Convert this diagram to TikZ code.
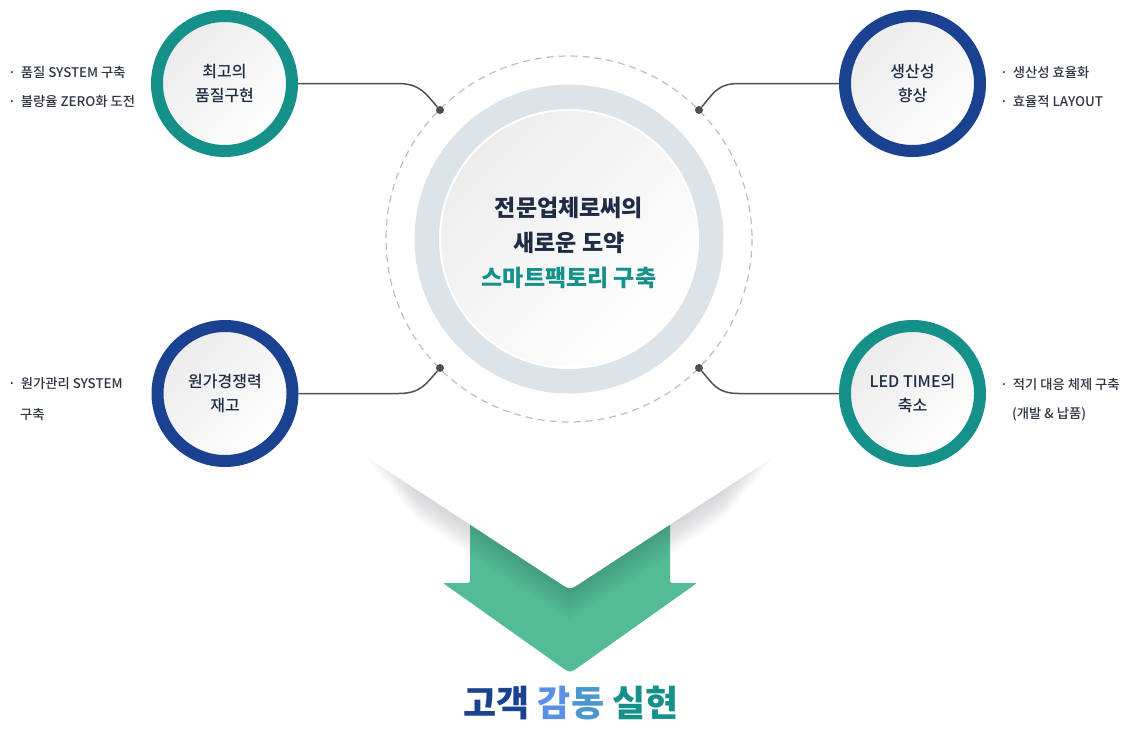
\documentclass[tikz,border=0pt]{standalone}
\usepackage{fontspec}
\setmainfont{Noto Sans CJK KR}
\newfontfamily\midfont{Noto Sans CJK KR Medium}
\newfontfamily\heavyfont{Noto Sans CJK KR Black}
\usepackage{xcolor}
\usepackage{tikz}
\usetikzlibrary{calc}
\definecolor{ink}{HTML}{1F2C45}
\definecolor{body}{HTML}{2E3542}
\definecolor{teal}{HTML}{16918A}
\definecolor{navy}{HTML}{1B4291}
\definecolor{mint}{HTML}{53BB95}
\definecolor{haze}{HTML}{DCE4EA}
\definecolor{wire}{HTML}{505050}
\definecolor{rim}{HTML}{BDBDBD}
\definecolor{sky}{HTML}{5C90E6}
\definecolor{sea}{HTML}{4A98CC}
\definecolor{smoke}{HTML}{3C3C50}
\tikzset{
  ring/.style={circle, draw=#1, line width=12pt, minimum size=135pt, inner sep=0pt,
    align=center, text=ink, font=\midfont\fontsize{16}{24}\selectfont,
    top color=black!8, bottom color=white, shading angle=45},
  orbit/.style={draw=rim, line width=1.2pt, dash pattern=on 7pt off 5pt},
  conn/.style={draw=wire, line width=1.5pt},
  dot/.style={circle, fill=wire, inner sep=0pt, minimum size=8pt},
  note/.style={anchor=west, text=body, font=\midfont\fontsize{13.3}{16}\selectfont, inner sep=0pt},
  motto/.style={align=center, text=ink, font=\fontsize{23}{35}\selectfont\bfseries}
}
\begin{document}
\begin{tikzpicture}[x=1pt, y=-1pt]
  \useasboundingbox (0,0) rectangle (1140,750);

  \node[circle, fill=haze, minimum size=309pt, inner sep=0pt] (halo) at (569,239) {};
  \node[circle, draw=white, line width=2pt, minimum size=258pt, inner sep=0pt,
    top color=black!7, bottom color=white, shading angle=45] (core) at (halo.center) {};
  \node[motto] (slogan) at (569,243) {전문업체로써의\\새로운 도약\\{\color{teal}스마트팩토리 구축}};
  \draw[orbit] (halo.center) circle (183);

  \node[dot] (dq) at (440,110) {};
  \node[dot] (dp) at (699,110) {};
  \node[dot] (dc) at (440,368) {};
  \node[dot] (dl) at (699,368) {};

  \node[ring=teal] (quality) at (224.5,83.5) {최고의\\품질구현};
  \node[ring=navy] (product) at (912.5,83.5) {생산성\\향상};
  \node[ring=navy] (cost) at (225,393.5) {원가경쟁력\\재고};
  \node[ring=teal] (lead) at (912.5,393.5) {LED TIME의\\축소};

  \draw[conn] (quality.east) -- ++(100,0) .. controls +(22,0) and +(-14,-16) .. (dq);
  \draw[conn] (product.west) -- ++(-100,0) .. controls +(-22,0) and +(14,-16) .. (dp);
  \draw[conn] (cost.east) -- ++(100,0) .. controls +(22,0) and +(-14,16) .. (dc);
  \draw[conn] (lead.west) -- ++(-100,0) .. controls +(-22,0) and +(14,16) .. (dl);

  \node[note] (q1) at (8,73) {·\hspace{5pt}품질 SYSTEM 구축};
  \node[note] (q2) at (8,102) {·\hspace{5pt}불량율 ZERO화 도전};
  \node[note] (p1) at (1000,73) {·\hspace{5pt}생산성 효율화};
  \node[note] (p2) at (1000,102) {·\hspace{5pt}효율적 LAYOUT};
  \node[note] (c1) at (8,384) {·\hspace{5pt}원가관리 SYSTEM};
  \node[note] (c2) at (20,414) {구축};
  \node[note] (l1) at (1000,384) {·\hspace{5pt}적기 대응 체제 구축};
  \node[note] (l2) at (1012,414) {(개발 \& 납품)};

  \fill[mint, rounded corners=2pt] (470,480) -- (470,583) -- (443,583) -- (560,666)
    .. controls (570,673) .. (580,666) -- (697,583) -- (670,583) -- (670,480) -- cycle;
  \foreach \s in {2,4,...,30}
    \fill[smoke, opacity=0.017] ({362+1.8*\s},445) -- ({362+1.8*\s},{454+1.18*\s+\s})
      -- (570,{590+\s}) -- ({778-1.8*\s},{454+1.18*\s+\s}) -- ({778-1.8*\s},445) -- cycle;
  \fill[white] (362,445) -- (362,454) -- (558,582) .. controls (570,590) .. (582,582)
    -- (778,454) -- (778,445) -- cycle;

  \node[font=\heavyfont\fontsize{36}{36}\selectfont] (goal) at (571,703)
    {{\color{navy}고객} {\color{sky}감}{\color{sea}동} {\color{teal}실현}};
\end{tikzpicture}
\end{document}
